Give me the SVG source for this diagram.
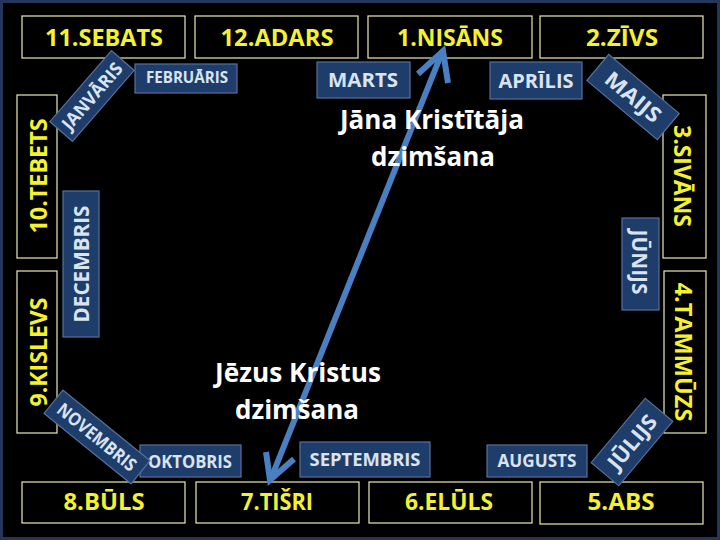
<svg xmlns="http://www.w3.org/2000/svg" width="720" height="540" viewBox="0 0 720 540">
<style>
.heb rect{fill:#000;stroke:#ecebb4;stroke-width:1.2}
.heb text{fill:#f4f22e;font-family:"Open Sans","Liberation Sans",sans-serif;font-weight:bold;font-size:24px;text-anchor:middle}
.greg rect{fill:#1f3d6b;stroke:#56719b;stroke-width:1.2}
.greg text{fill:#d9e4f3;font-family:"Open Sans","Liberation Sans",sans-serif;font-weight:bold;text-anchor:middle}
.note{fill:#fff;font-family:"Open Sans","Liberation Sans",sans-serif;font-weight:bold;font-size:27px;text-anchor:middle}
.arr{fill:none;stroke:#4a7fc1;stroke-width:6;stroke-linecap:butt;stroke-linejoin:miter}
</style>
<rect x="0" y="0" width="720" height="540" fill="#000"/>
<rect x="1.5" y="1.5" width="717" height="537" fill="none" stroke="#24365a" stroke-width="3"/>

<!-- Hebrew months -->
<g id="sebats" class="heb"><rect x="22" y="16" width="163" height="42"/><text x="104" y="46" textLength="118" lengthAdjust="spacingAndGlyphs">11.SEBATS</text></g>
<g id="adars" class="heb"><rect x="195" y="16" width="163" height="42"/><text x="277" y="46" textLength="113" lengthAdjust="spacingAndGlyphs">12.ADARS</text></g>
<g id="nisans" class="heb"><rect x="368" y="16" width="164" height="42"/><text x="450" y="46" textLength="106" lengthAdjust="spacingAndGlyphs">1.NISĀNS</text></g>
<g id="zivs" class="heb"><rect x="540" y="16" width="163" height="42"/><text x="622" y="46" textLength="72" lengthAdjust="spacingAndGlyphs">2.ZĪVS</text></g>
<g id="sivans" class="heb"><rect x="663" y="95" width="43" height="163"/><text transform="translate(674,176) rotate(90)" textLength="102" lengthAdjust="spacingAndGlyphs">3.SIVĀNS</text></g>
<g id="tammuzs" class="heb"><rect x="664" y="271" width="42" height="162"/><text transform="translate(675,352) rotate(90)" textLength="139" lengthAdjust="spacingAndGlyphs">4.TAMMŪZS</text></g>
<g id="abs" class="heb"><rect x="540" y="482" width="163" height="42"/><text x="621" y="510" textLength="67" lengthAdjust="spacingAndGlyphs">5.ABS</text></g>
<g id="eluls" class="heb"><rect x="369" y="482" width="163" height="41"/><text x="449" y="510" textLength="88" lengthAdjust="spacingAndGlyphs">6.ELŪLS</text></g>
<g id="tisri" class="heb"><rect x="196" y="482" width="163" height="41"/><text x="277" y="510" textLength="72" lengthAdjust="spacingAndGlyphs">7.TIŠRI</text></g>
<g id="buls" class="heb"><rect x="22" y="482" width="163" height="41"/><text x="104" y="510" textLength="81" lengthAdjust="spacingAndGlyphs">8.BŪLS</text></g>
<g id="kislevs" class="heb"><rect x="17" y="271" width="40" height="162"/><text transform="translate(47,352) rotate(-90)" textLength="109" lengthAdjust="spacingAndGlyphs">9.KISLEVS</text></g>
<g id="tebets" class="heb"><rect x="17" y="95" width="40" height="163"/><text transform="translate(47,176) rotate(-90)" textLength="115" lengthAdjust="spacingAndGlyphs">10.TEBETS</text></g>

<!-- Gregorian months -->
<g id="janvaris" class="greg" transform="translate(92,96) rotate(-49)"><rect x="-47" y="-15" width="94" height="30"/><text y="6.5" font-size="18" textLength="82" lengthAdjust="spacingAndGlyphs">JANVĀRIS</text></g>
<g id="februaris" class="greg"><rect x="135" y="64" width="102" height="29"/><text x="187" y="83" font-size="16" textLength="82" lengthAdjust="spacingAndGlyphs">FEBRUĀRIS</text></g>
<g id="marts" class="greg"><rect x="317" y="62" width="93" height="36"/><text x="363" y="87" font-size="19" textLength="70" lengthAdjust="spacingAndGlyphs">MARTS</text></g>
<g id="aprilis" class="greg"><rect x="490" y="62" width="92" height="37"/><text x="536" y="88" font-size="19" textLength="75" lengthAdjust="spacingAndGlyphs">APRĪLIS</text></g>
<g id="maijs" class="greg" transform="translate(633,97) rotate(40)"><rect x="-46" y="-17" width="92" height="34"/><text y="7.5" font-size="21" textLength="66" lengthAdjust="spacingAndGlyphs">MAIJS</text></g>
<g id="junijs" class="greg"><rect x="622" y="218" width="37" height="92"/><text transform="translate(632,262) rotate(90)" font-size="22" textLength="65" lengthAdjust="spacingAndGlyphs">JŪNIJS</text></g>
<g id="julijs" class="greg" transform="translate(632,442) rotate(-50)"><rect x="-42" y="-18" width="84" height="36"/><text y="7.5" font-size="21" textLength="64" lengthAdjust="spacingAndGlyphs">JŪLIJS</text></g>
<g id="augusts" class="greg"><rect x="487" y="445" width="100" height="32"/><text x="537" y="467" font-size="17" textLength="79" lengthAdjust="spacingAndGlyphs">AUGUSTS</text></g>
<g id="septembris" class="greg"><rect x="300" y="442" width="130" height="35"/><text x="365" y="466" font-size="18" textLength="111" lengthAdjust="spacingAndGlyphs">SEPTEMBRIS</text></g>
<g id="oktobris" class="greg"><rect x="140" y="445" width="101" height="32"/><text x="190" y="468" font-size="17" textLength="84" lengthAdjust="spacingAndGlyphs">OKTOBRIS</text></g>
<g id="novembris" class="greg" transform="translate(97,437) rotate(39)"><rect x="-56" y="-15" width="112" height="30"/><text y="6.5" font-size="18" textLength="96" lengthAdjust="spacingAndGlyphs">NOVEMBRIS</text></g>
<g id="decembris" class="greg"><rect x="63" y="191" width="36" height="146"/><text transform="translate(89,264) rotate(-90)" font-size="22" textLength="117" lengthAdjust="spacingAndGlyphs">DECEMBRIS</text></g>

<!-- Connectors -->
<g id="connectors">
<line class="arr" x1="272" y1="476" x2="441" y2="55"/>
<polyline class="arr" points="418,74 443,51 448,83"/>
<polyline class="arr" points="266,452 270,480 294,459"/>
</g>

<!-- Event labels -->
<g id="jana">
<text class="note" x="432" y="129" textLength="184" lengthAdjust="spacingAndGlyphs">Jāna Kristītāja</text>
<text class="note" x="433" y="166" textLength="124" lengthAdjust="spacingAndGlyphs">dzimšana</text>
</g>
<g id="jezus">
<text class="note" x="298" y="382" textLength="166" lengthAdjust="spacingAndGlyphs">Jēzus Kristus</text>
<text class="note" x="297" y="419" textLength="124" lengthAdjust="spacingAndGlyphs">dzimšana</text>
</g>
</svg>
